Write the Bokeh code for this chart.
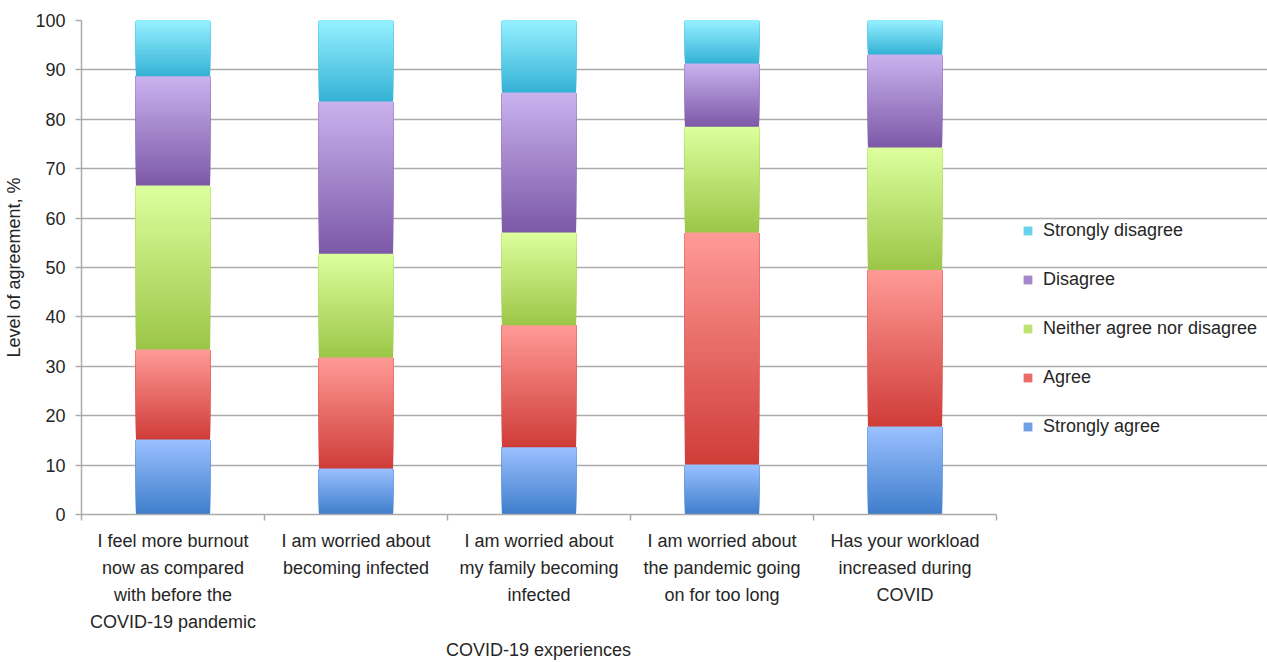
from bokeh.plotting import figure
from bokeh.models import (FixedTicker, Legend, LegendItem, ColumnDataSource,
                          Range1d, Title)
from bokeh.embed import file_html
from bokeh.resources import INLINE

# Survey statements (x axis) and response shares, %
categories = [
    "I feel more burnout\nnow as compared\nwith before the\nCOVID-19 pandemic",
    "I am worried about\nbecoming infected",
    "I am worried about\nmy family becoming\ninfected",
    "I am worried about\nthe pandemic going\non for too long",
    "Has your workload\nincreased during\nCOVID",
]
strongly_agree = [15.2, 9.3, 13.6, 10.1, 17.8]
agree = [18.2, 22.5, 24.7, 47.0, 31.7]
neither = [33.2, 21.0, 18.8, 21.4, 24.8]
disagree = [22.1, 30.8, 28.3, 12.8, 18.8]
strongly_disagree = [11.3, 16.4, 14.6, 8.7, 6.9]

series_names = ["Strongly agree", "Agree", "Neither agree nor disagree",
                "Disagree", "Strongly disagree"]
series_values = [strongly_agree, agree, neither, disagree, strongly_disagree]
# (top colour, bottom colour) of each vertical gradient
series_gradients = [
    ("#9ac0ff", "#3f7ecb"),
    ("#ff9a96", "#d03d39"),
    ("#dcff9d", "#9cc648"),
    ("#c9b2ee", "#7d59a8"),
    ("#95f0ff", "#35b2d6"),
]

FONT = "Liberation Sans"
FONT_SIZE = "18px"
TEXT = "#262626"
GRID = "#ababab"
SLICES = 60
BAR_WIDTH = 0.405

# The frame also hosts the legend: the category area is 915 px of a 1186 px frame
N = len(categories)
PLOT_PX, FRAME_PX = 915, 1186
x_end = N * FRAME_PX / PLOT_PX


def hex_to_rgb(h):
    h = h.lstrip("#")
    return tuple(int(h[i:i + 2], 16) for i in (0, 2, 4))


def blend(c_top, c_bot, t):
    a, b = hex_to_rgb(c_top), hex_to_rgb(c_bot)
    r = [round(a[i] + (b[i] - a[i]) * t) for i in range(3)]
    return "#%02x%02x%02x" % tuple(r)


p = figure(width=1267, height=662, output_backend="svg", toolbar_location=None,
           x_range=Range1d(0, x_end), y_range=Range1d(0, 100),
           min_border_left=81, min_border_right=0, min_border_top=20,
           min_border_bottom=0, outline_line_color=None)

centers = [i + 0.5 for i in range(N)]

# Stacked segments with a top-to-bottom gradient: each slice runs from its own
# bottom to the segment top and is painted bottom-up, so no seams show through.
renderers = []
base = [0.0] * N
for name, vals, (c_top, c_bot) in zip(series_names, series_values, series_gradients):
    xs, bottoms, tops, colors = [], [], [], []
    for k in range(SLICES):
        t = k / (SLICES - 1)
        col = blend(c_top, c_bot, 1 - t)
        for ci, (b0, v) in enumerate(zip(base, vals)):
            xs.append(centers[ci])
            bottoms.append(b0 + v * k / SLICES)
            tops.append(b0 + v)
            colors.append(col)
    src = ColumnDataSource(dict(x=xs, bottom=bottoms, top=tops, color=colors))
    r = p.vbar(x="x", bottom="bottom", top="top", width=BAR_WIDTH, source=src,
               fill_color="color", line_color=None)
    renderers.append(r)
    base = [b0 + v for b0, v in zip(base, vals)]

# Grid and axes, limited to the category area
p.xgrid.grid_line_color = None
p.ygrid.grid_line_color = GRID
p.ygrid.grid_line_width = 1.5
p.ygrid.ticker = FixedTicker(ticks=list(range(0, 101, 10)))
p.ygrid.bounds = (0, N)

p.yaxis.ticker = FixedTicker(ticks=list(range(0, 101, 10)))
p.yaxis.axis_label = "Level of agreement, %"
p.yaxis.axis_line_color = GRID
p.yaxis.axis_line_width = 1.5
p.yaxis.major_tick_line_color = GRID
p.yaxis.major_tick_line_width = 1.5
p.yaxis.major_tick_out = 6
p.yaxis.major_tick_in = 0
p.yaxis.minor_tick_line_color = None
p.yaxis.major_label_standoff = 10
p.yaxis.axis_label_standoff = 8

p.xaxis.ticker = FixedTicker(ticks=centers, minor_ticks=list(range(0, N + 1)))
p.xaxis.bounds = (0, N)
p.xaxis.major_label_overrides = {c: lab for c, lab in zip(centers, categories)}
p.xaxis.axis_line_color = GRID
p.xaxis.axis_line_width = 1.5
p.xaxis.major_tick_line_color = None
p.xaxis.major_tick_out = 6
p.xaxis.minor_tick_line_color = GRID
p.xaxis.minor_tick_line_width = 1.5
p.xaxis.minor_tick_out = 6
p.xaxis.minor_tick_in = 0
p.xaxis.major_label_standoff = 10
p.xaxis.major_label_text_line_height = 1.36

for ax in (p.xaxis, p.yaxis):
    ax.major_label_text_font = FONT
    ax.major_label_text_font_size = FONT_SIZE
    ax.major_label_text_color = TEXT
    ax.axis_label_text_font = FONT
    ax.axis_label_text_font_size = FONT_SIZE
    ax.axis_label_text_font_style = "normal"
    ax.axis_label_text_color = TEXT

# x axis title, centred under the category area rather than the whole frame
x_title = "COVID-19 experiences"
title_px = 186
p.add_layout(Title(text=x_title, align="left", offset=PLOT_PX / 2 - title_px / 2,
                   standoff=5, text_font=FONT, text_font_size=FONT_SIZE,
                   text_font_style="normal", text_color=TEXT), "below")

# Legend to the right of the bars, top entry is the top of the stack
items = [LegendItem(label=name, renderers=[r], index=(SLICES // 2) * N)
         for name, r in zip(series_names, renderers)][::-1]
legend = Legend(items=items, location=(941, 77), orientation="vertical",
                glyph_width=11, glyph_height=11, label_height=20, spacing=28,
                label_standoff=10, padding=0, margin=0,
                border_line_color=None, background_fill_alpha=0,
                label_text_font=FONT, label_text_font_size=FONT_SIZE,
                label_text_color=TEXT)
p.add_layout(legend)

open("out.html", "w").write(file_html(p, INLINE))
